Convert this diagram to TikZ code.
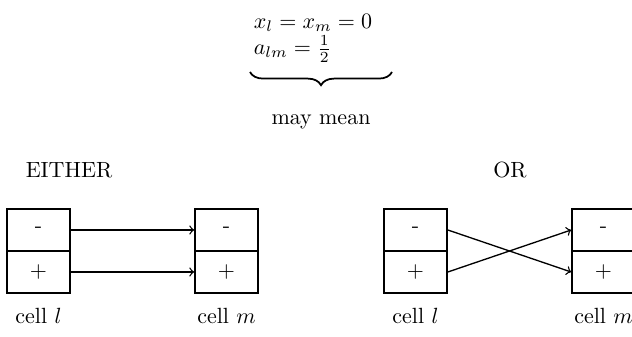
\documentclass[tikz,border=0pt]{standalone}
\usepackage{amsmath}
\usetikzlibrary{decorations.pathreplacing}

\tikzset{
    half/.style={draw, thick, minimum width=28.6pt, minimum height=19.1pt, inner sep=0pt},
    link/.style={->, semithick}
}

\begin{document}
\begin{tikzpicture}[x=0.4545pt, y=-0.4545pt]
        \useasboundingbox (0,0) rectangle (632,337);

        \node[inner sep=0pt] (eqs) at (313,36) {$\begin{array}{l} x_l = x_m = 0\\ a_{lm} = \frac{1}{2} \end{array}$};
        \coordinate (bl) at (250,72);
        \coordinate (br) at (392,72);
        \draw[thick, decorate, decoration={brace, mirror, amplitude=6pt}] (bl) -- (br);
        \node (mean) at (321,122) {may mean};

        % either
        \node (either) at (69,170) {EITHER};
        \node[half] (lm1) at (38.5,230) {-};
        \node[half] (lp1) at (38.5,272) {$+$};
        \node[half] (mm1) at (226.5,230) {-};
        \node[half] (mp1) at (226.5,272) {$+$};
        \node (cl1) at (38.5,316) {cell $l$};
        \node (cm1) at (226.5,316) {cell $m$};
        \draw[link] (lm1) -- (mm1);
        \draw[link] (lp1) -- (mp1);

        % or
        \node (or) at (510,170) {OR};
        \node[half] (lm2) at (415.5,230) {-};
        \node[half] (lp2) at (415.5,272) {$+$};
        \node[half] (mm2) at (603.5,230) {-};
        \node[half] (mp2) at (603.5,272) {$+$};
        \node (cl2) at (415.5,316) {cell $l$};
        \node (cm2) at (603.5,316) {cell $m$};
        \draw[link] (lm2.east) -- (mp2.west);
        \draw[link] (lp2.east) -- (mm2.west);
\end{tikzpicture}
\end{document}
